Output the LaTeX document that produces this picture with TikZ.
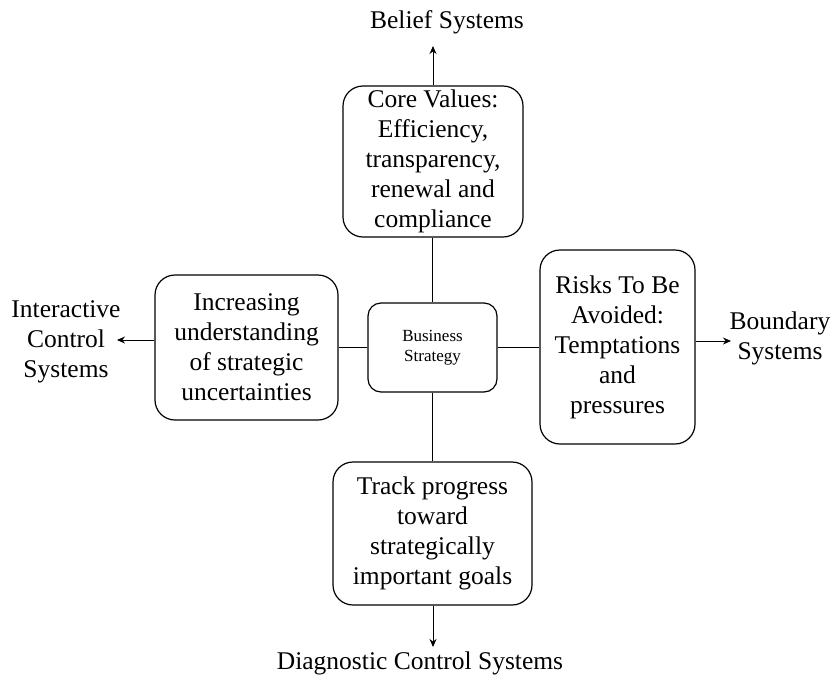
\documentclass[tikz,border=0pt]{standalone}
\usepackage{fontspec}
\setmainfont{Liberation Serif}
\usetikzlibrary{arrows.meta}
\begin{document}
\begin{tikzpicture}[x=1pt,y=-1pt,
  box/.style={draw,line width=1.2pt,rounded corners=20pt,align=center,inner sep=0pt,
    font=\fontsize{25.5}{30}\selectfont},
  lbl/.style={align=center,inner sep=0pt,font=\fontsize{25.5}{30}\selectfont},
  conn/.style={line width=1.2pt},
  arr/.style={line width=1pt,-{Stealth[length=8pt,width=7pt]}}]
\useasboundingbox (0,0) rectangle (832,678);
\node[box,minimum width=180pt,minimum height=151pt] (top) at (433,161.5)
  {Core Values:\\Efficiency,\\transparency,\\renewal and\\compliance};
\node[box,rounded corners=13pt,minimum width=129pt,minimum height=89pt,
  font=\fontsize{17}{20}\selectfont] (mid) at (432.5,347.5) {Business\\Strategy};
\node[box,minimum width=183pt,minimum height=145pt] (left) at (246.5,347.5)
  {Increasing\\understanding\\of strategic\\uncertainties};
\node[box,minimum width=155pt,minimum height=194pt] (right) at (617.5,347)
  {Risks To Be\\Avoided:\\Temptations\\and\\pressures};
\node[box,minimum width=199pt,minimum height=143pt] (bot) at (432.5,533.5)
  {Track progress\\toward\\strategically\\important goals};
\node[lbl] (belief) at (447,22) {Belief Systems};
\node[lbl] (inter) at (66,342) {Interactive\\Control\\Systems};
\node[lbl] (bound) at (780,338) {Boundary\\Systems};
\node[lbl] (diag) at (420,663) {Diagnostic Control Systems};
\coordinate (tEnd) at (433,46);
\coordinate (lEnd) at (117,340);
\coordinate (rEnd) at (731,341);
\coordinate (bEnd) at (433,647);
\draw[conn] (top.south -| mid.north) -- (mid.north);
\draw[conn] (mid.south) -- (bot.north -| mid.south);
\draw[conn] (mid.west) -- (left.east |- mid.west);
\draw[conn] (mid.east) -- (right.west |- mid.east);
\draw[arr] (top.north -| tEnd) -- (tEnd);
\draw[arr] (left.west |- lEnd) -- (lEnd);
\draw[arr] (right.east |- rEnd) -- (rEnd);
\draw[arr] (bot.south -| bEnd) -- (bEnd);
\end{tikzpicture}
\end{document}
